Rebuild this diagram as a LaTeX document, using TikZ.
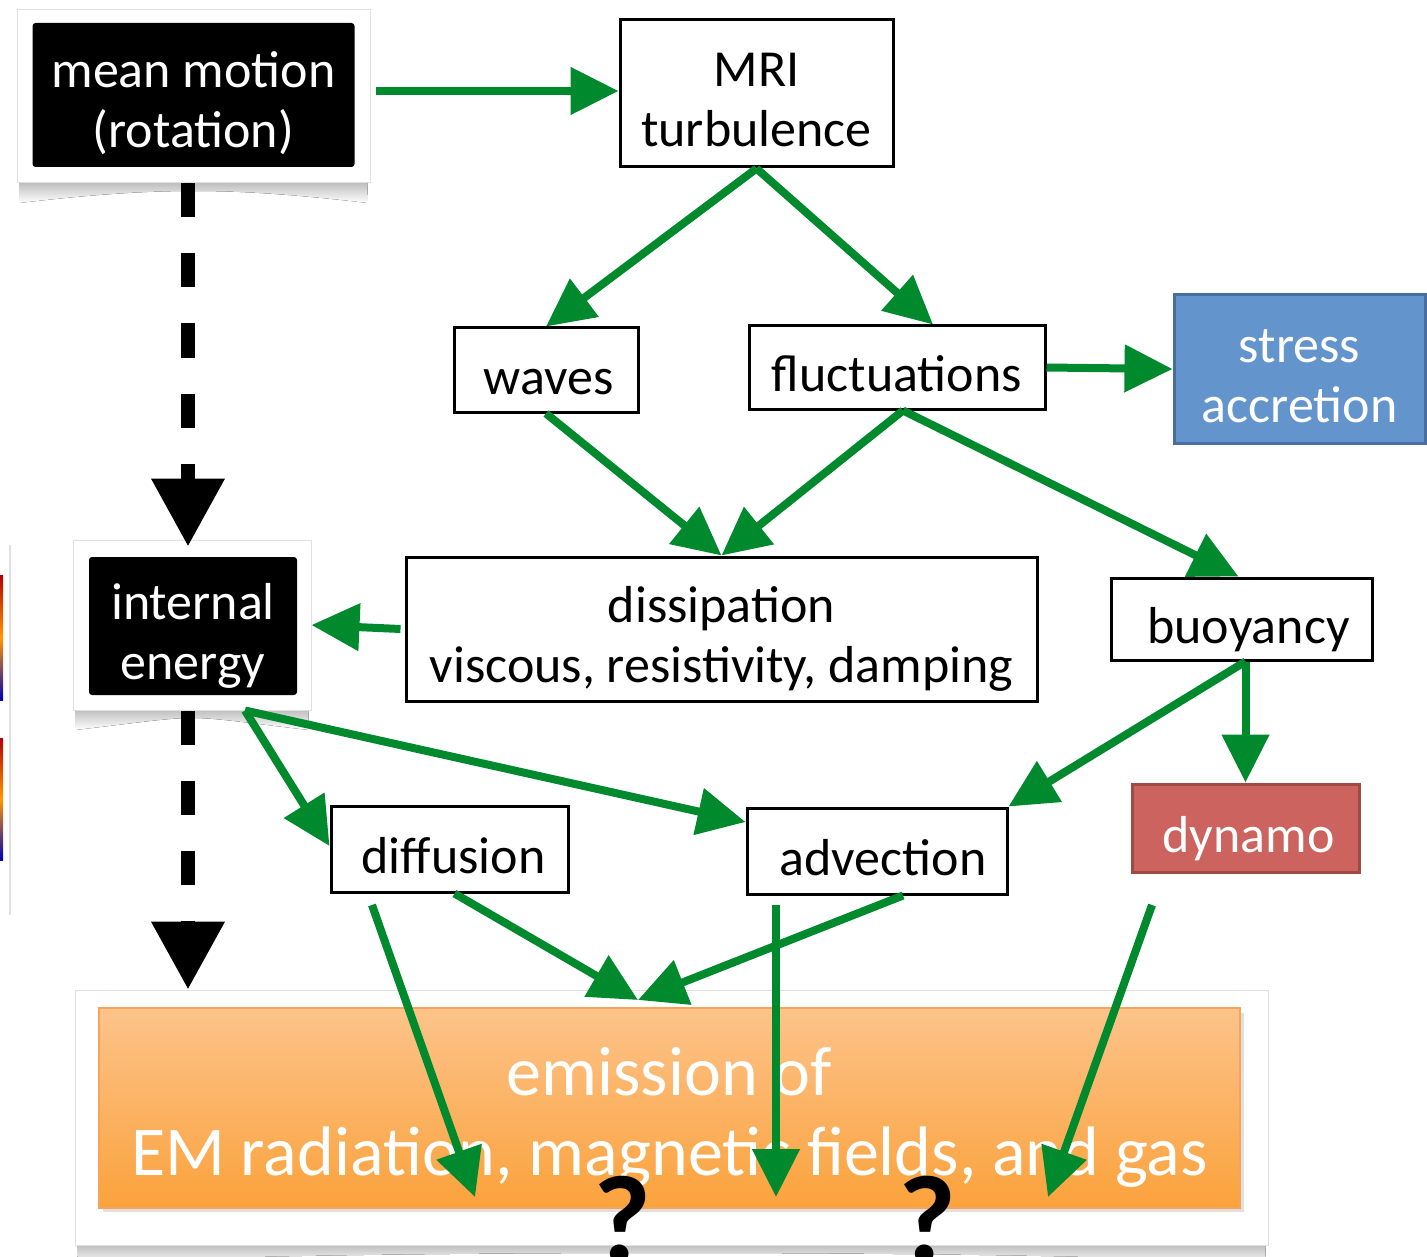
\documentclass[tikz,border=0pt]{standalone}
\usepackage{fontspec}
\setmainfont{Carlito}
\usetikzlibrary{arrows.meta,shadings,calc}

\definecolor{flowgreen}{RGB}{0,137,45}
\definecolor{stressfill}{RGB}{99,149,204}
\definecolor{stressline}{RGB}{72,110,160}
\definecolor{dynfill}{RGB}{205,99,94}
\definecolor{dynline}{RGB}{160,74,70}
\definecolor{emtop}{RGB}{252,195,138}
\definecolor{embottom}{RGB}{251,162,60}
\definecolor{emline}{RGB}{244,165,90}

% soft curled shadow under a card: left x, right x, bottom y
\newcommand\curlshadow[3]{%
  \fill[top color=black!40, bottom color=white]
    (#1+3,#3-12) -- (#2-3,#3-12) -- (#2-2,#3+20)
    .. controls (#2-140,#3+4) and (#1+140,#3+4) .. (#1+2,#3+20) -- cycle;}

\tikzset{
  % fixed struts keep every label on the same baseline grid
  lbl/.style={font=\fontsize{52}{60}\selectfont, align=center, inner sep=0pt,
    execute at begin node={\rule{0pt}{62pt}},
    execute at end node={\rule[-14pt]{0pt}{14pt}}},
  % two-line labels: the text block hangs from its last baseline
  twoline/.style={execute at begin node={\rule{0pt}{120pt}}},
  wbox/.style={lbl, draw=black, line width=3pt, fill=white, text=black},
  bbox/.style={lbl, twoline, fill=black, rounded corners=3pt, text=white},
  card/.style={draw=black!12, line width=1pt, fill=white, inner sep=0pt},
  gflow/.style={draw=flowgreen, line width=8pt, -{Triangle[length=48pt,width=46pt]}},
  dasharrow/.style={draw=black, line width=14pt, dash pattern=on 34pt off 36pt,
    -{Triangle[length=68pt,width=70pt]}},
  qmark/.style={font=\bfseries\fontsize{125}{125}\selectfont, inner sep=0pt, anchor=base}
}

\begin{document}
\begin{tikzpicture}[x=1pt,y=-1pt]
\useasboundingbox (0,0) rectangle (1427,1257);
\fill[white] (0,0) rectangle (1427,1257);

% cut-off strip of a neighbouring panel at the left edge
\draw[black!12, line width=1.5pt] (10,545) -- (10,915);
\fill[top color=red!70!black, bottom color=blue!70!black, middle color=yellow!60!red] (0,575) rectangle (3,700);
\fill[top color=red!70!black, bottom color=blue!70!black, middle color=yellow!60!red] (0,738) rectangle (3,860);

% cards with shadows
\curlshadow{17}{370}{183}
\node[card, minimum width=353pt, minimum height=173pt] (mmframe) at (193.5,96.5) {};
\node[bbox, minimum width=322pt, minimum height=144pt] (mm) at (193.5,95) {mean motion\\(rotation)};

\curlshadow{73}{311}{710}
\node[card, minimum width=238pt, minimum height=170pt] (ieframe) at (192,625) {};
\node[bbox, minimum width=208pt, minimum height=138pt] (ie) at (193,626) {internal\\energy};

\curlshadow{75}{1268}{1245}
\node[card, minimum width=1193pt, minimum height=255pt] (emframe) at (671.5,1117.5) {};
\fill[black!12] (103,1013) rectangle (1244,1212);
\node[minimum width=1141pt, minimum height=200pt, draw=emline, line width=1.5pt,
      top color=emtop, bottom color=embottom, text=white, align=center, inner sep=0pt,
      font=\fontsize{70}{80}\selectfont,
      execute at begin node={\rule{0pt}{154pt}},
      execute at end node={\rule[-20pt]{0pt}{20pt}}] (em) at (669.5,1108)
      {emission of\\EM radiation, magnetic fields, and gas};

% flow boxes
\node[wbox, twoline, minimum width=273pt, minimum height=147pt] (mri) at (756.5,93.5) {MRI\\turbulence};
\node[wbox, minimum width=184pt, minimum height=84pt] (waves) at (546,370) {\hspace*{5pt}waves};
\node[wbox, minimum width=296pt, minimum height=83pt] (fluct) at (897,367.5) {fluctuations};
\node[lbl, twoline, fill=stressfill, draw=stressline, line width=3pt, text=white,
      minimum width=251pt, minimum height=148pt] (stress) at (1299.5,369) {stress\\accretion};
\node[wbox, twoline, minimum width=631pt, minimum height=144pt] (diss) at (721.5,629)
      {dissipation\\viscous, resistivity, damping};
\node[wbox, minimum width=261pt, minimum height=82pt] (buoy) at (1241.5,619) {\hspace*{14pt}buoyancy};
\node[wbox, minimum width=237pt, minimum height=86pt] (diff) at (449.5,849) {\hspace*{8pt}diffusion};
\node[wbox, minimum width=260pt, minimum height=86pt] (adv) at (877,851) {\hspace*{12pt}advection};
\node[lbl, fill=dynfill, draw=dynline, line width=3pt, text=white,
      minimum width=227pt, minimum height=88pt] (dyn) at (1245.5,828) {\hspace*{6pt}dynamo};

% free ends of the connectors
\coordinate (merge) at (638,1000);
\coordinate (s1) at (372,905);
\coordinate (s2) at (776,905);
\coordinate (s3) at (1152,905);
\coordinate (t1) at (475,1197);
\coordinate (t2) at (776,1197);
\coordinate (t3) at (1048,1197);

% heat path
\draw[dasharrow, shorten >=-7pt] ([xshift=-5.5pt]mmframe.south) -- ([xshift=-5.5pt]mmframe.south |- ieframe.north);
\draw[dasharrow] ([xshift=-4pt]ieframe.south) -- ([xshift=-4pt]ieframe.south |- emframe.north);

% energy flow
\draw[gflow] ([xshift=5pt,yshift=4pt]mmframe.east |- mm.east) -- ([yshift=4pt]mri.west |- mm.east);
\draw[gflow] (mri.south) -- (waves.north);
\draw[gflow] (mri.south) -- ([xshift=36pt]fluct.north);
\draw[gflow] (fluct.east) -- (stress.west);
\draw[gflow] (waves.south) -- (diss.north);
\draw[gflow] ([xshift=6pt]fluct.south) -- (diss.north);
\draw[gflow] ([xshift=6pt]fluct.south) -- ([xshift=-3pt]buoy.north);
\draw[gflow] ([xshift=-4pt]diss.west) -- (ieframe.east);
\draw[gflow] (buoy.south -| dyn.north) -- (dyn.north);
\draw[gflow] (buoy.south -| dyn.north) -- (adv.north east);
\draw[gflow] ([xshift=53pt]ieframe.south) -- ([yshift=3pt]diff.west);
\draw[gflow] ([xshift=53pt]ieframe.south) -- ([yshift=29pt]adv.west);
\draw[gflow] ([xshift=5pt]diff.south) -- (merge);
\draw[gflow] ([xshift=26pt]adv.south) -- (merge);
\draw[gflow] (s1) -- (t1);
\draw[gflow] (s2) -- (t2);
\draw[gflow] (s3) -- (t3);

% open questions
\node[qmark] (q1) at (622,1262) {?};
\node[qmark] (q2) at (927,1262) {?};
\end{tikzpicture}
\end{document}
